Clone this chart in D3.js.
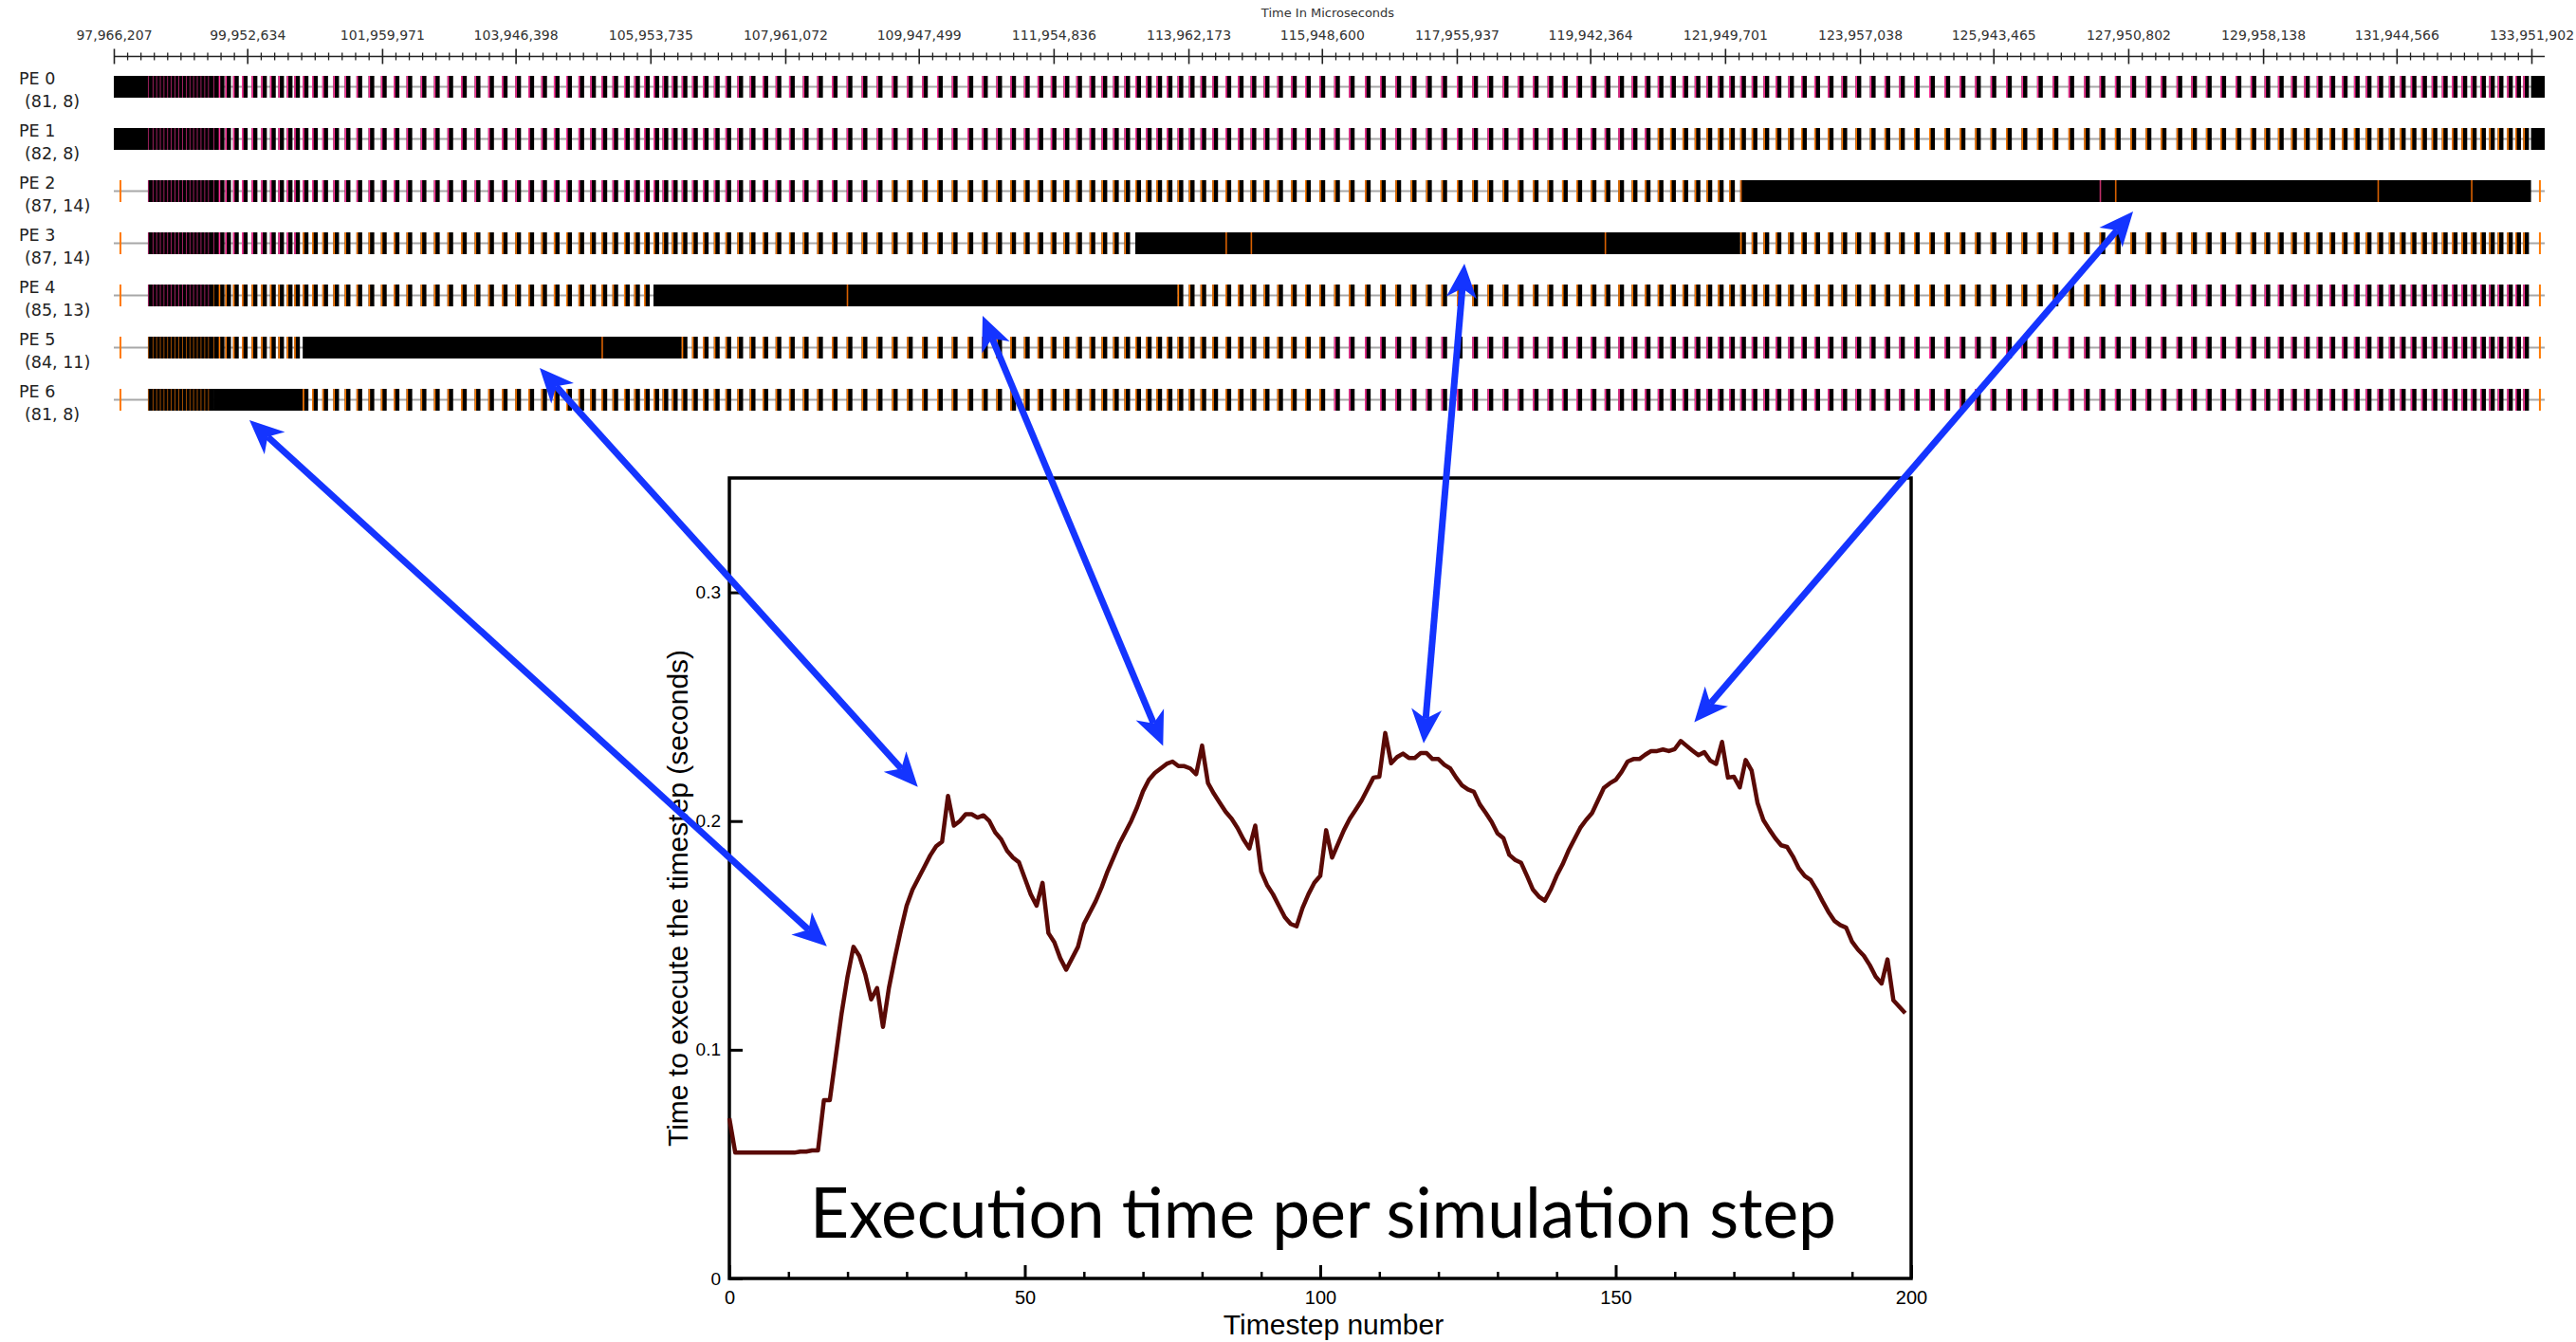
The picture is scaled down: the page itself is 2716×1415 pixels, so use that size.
<!DOCTYPE html>
<html>
<head>
<meta charset="utf-8">
<script src="https://cdn.jsdelivr.net/npm/d3@7"></script>
<style>
  body { margin: 0; background: #fff; }
  svg { display: block; }
</style>
</head>
<body>
<div id="chart"></div>
<script>
// ---- data ----
const timeTicks = [97966207, 99952634, 101959971, 103946398, 105953735, 107961072, 109947499,
  111954836, 113962173, 115948600, 117955937, 119942364, 121949701, 123957038, 125943465,
  127950802, 129958138, 131944566, 133951902];
const peNames = ["PE 0", "PE 1", "PE 2", "PE 3", "PE 4", "PE 5", "PE 6"];
const peCoords = ["(81, 8)", "(82, 8)", "(87, 14)", "(87, 14)", "(85, 13)", "(84, 11)", "(81, 8)"];

// seconds per timestep, steps 0..199
const stepTime = [
  0.070, 0.055, 0.055, 0.055, 0.055, 0.055, 0.055, 0.055, 0.055, 0.055,
  0.055, 0.055, 0.0555, 0.0555, 0.056, 0.056, 0.078, 0.078, 0.097, 0.116,
  0.132, 0.145, 0.141, 0.133, 0.122, 0.127, 0.110, 0.127, 0.140, 0.152,
  0.163, 0.170, 0.175, 0.180, 0.185, 0.189, 0.191, 0.211, 0.198, 0.200,
  0.203, 0.203, 0.2015, 0.2025, 0.200, 0.195, 0.192, 0.187, 0.184, 0.182,
  0.175, 0.168, 0.163, 0.173, 0.151, 0.147, 0.140, 0.135, 0.140, 0.145,
  0.155, 0.160, 0.165, 0.171, 0.178, 0.184, 0.190, 0.195, 0.200, 0.206,
  0.213, 0.218, 0.221, 0.223, 0.225, 0.226, 0.224, 0.224, 0.223, 0.2205,
  0.233, 0.2166, 0.212, 0.208, 0.204, 0.201, 0.197, 0.192, 0.188, 0.198,
  0.178, 0.172, 0.168, 0.163, 0.158, 0.155, 0.154, 0.162, 0.168, 0.173,
  0.176, 0.196, 0.184, 0.190, 0.196, 0.201, 0.205, 0.209, 0.214, 0.219,
  0.2194, 0.2385, 0.2253, 0.228, 0.2295, 0.2276, 0.2276, 0.2297, 0.2297, 0.2271,
  0.2271, 0.2246, 0.223, 0.219, 0.2156, 0.2138, 0.2128, 0.2073, 0.2036, 0.1997,
  0.1946, 0.1925, 0.1852, 0.183, 0.1817, 0.176, 0.170, 0.167, 0.1652, 0.170,
  0.176, 0.181, 0.187, 0.192, 0.197, 0.2005, 0.2035, 0.209, 0.2145, 0.2165,
  0.218, 0.2215, 0.226, 0.2271, 0.2271, 0.229, 0.2306, 0.2306, 0.2313, 0.2306,
  0.2315, 0.235, 0.2329, 0.2308, 0.2288, 0.2301, 0.2264, 0.225, 0.2346, 0.219,
  0.2194, 0.2147, 0.2267, 0.2221, 0.208, 0.2004, 0.1963, 0.1925, 0.1894, 0.1887,
  0.1845, 0.1793, 0.176, 0.1742, 0.170, 0.165, 0.1603, 0.1564, 0.1545, 0.1534,
  0.1473, 0.1438, 0.1411, 0.137, 0.132, 0.129, 0.1395, 0.1216, 0.1188, 0.116
];

const runStart = 98474000;      // first timestep begins (us)
const traceEnd = 134150000;     // end of the drawn trace (us)
const edgeMarks = [98065000, 134078000];
const workTime = 85000;         // compute part of a step on an idle PE (us)
// PE 0 / PE 1 are busy before and after the run
const busyEdges = [true, true, false, false, false, false, false];
// steps where a PE is overloaded (solid black)
const busySteps = [[], [], [[139, 199]], [[94, 138]], [[57, 97]], [[28, 59]], [[17, 27]]];
const busyMarks = [[], [], [[139, "o"], [164, "p"], [165, "o"], [184, "o"], [193, "o"]],
  [[102, "o"], [104, "o"], [128, "o"]], [[73, "o"]], [[52, "o"]], []];
const accentRuns = [[[0, "p"]], [[0, "p"], [132, "o"]], [[0, "p"], [76, "o"]], [[0, "p"], [28, "o"]],
  [[0, "p"], [17, "o"], [165, "p"]], [[0, "o"], [110, "p"]], [[0, "o"], [110, "p"]]];

// arrows: PE row + time on the trace  <->  timestep + seconds on the plot
const arrowLinks = [
  ["PE 6", 99985000, 16.5, 0.1452],
  ["PE 5", 104305000, 31.9, 0.2149],
  ["PE 4", 110898000, 73.4, 0.2328],
  ["PE 3", 118070000, 117.5, 0.2340],
  ["PE 2", 128023000, 163.3, 0.2432]
];

const accentColor = {p: "#ff3399", o: "#ff7a00"};

// ---- svg ----
const svg = d3.select("#chart").append("svg")
    .attr("width", 2716)
    .attr("height", 1415);

// ---- timeline ----
const tx = d3.scaleLinear()
    .domain([timeTicks[0], timeTicks[timeTicks.length - 1]])
    .range([120, 2669]);
const rowY = d3.scalePoint()
    .domain(peNames)
    .range([91.5, 421.5]);
const barH = 23;

const bounds = [runStart];
stepTime.forEach(s => bounds.push(bounds[bounds.length - 1] + s * 1e6));
const runEnd = bounds[bounds.length - 1];

svg.append("text")
    .attr("x", 1400)
    .attr("y", 18)
    .attr("text-anchor", "middle")
    .style("font-family", "DejaVu Sans")
    .style("font-size", "13px")
    .style("fill", "#333")
    .text("Time In Microseconds");

const axisY = 59.5;
svg.append("line")
    .attr("x1", 120).attr("x2", tx(traceEnd))
    .attr("y1", axisY).attr("y2", axisY)
    .attr("stroke", "#222").attr("stroke-width", 1.6);

const minorTicks = [];
for (let j = 0; j < timeTicks.length - 1; j++) {
  for (let m = 1; m < 10; m++) {
    minorTicks.push(timeTicks[j] + (timeTicks[j + 1] - timeTicks[j]) * m / 10);
  }
}
const minorAxis = svg.append("g")
    .attr("transform", `translate(0, ${axisY + 4})`)
    .call(d3.axisTop(tx).tickValues(minorTicks).tickSize(8).tickFormat(""));
minorAxis.select(".domain").remove();
minorAxis.selectAll("line").attr("stroke", "#222").attr("stroke-width", 1.3);

const majorAxis = svg.append("g")
    .attr("transform", `translate(0, ${axisY + 8})`)
    .call(d3.axisTop(tx).tickValues(timeTicks).tickSize(16).tickPadding(9.5).tickFormat(d3.format(",")));
majorAxis.select(".domain").remove();
majorAxis.selectAll("line").attr("stroke", "#222").attr("stroke-width", 1.6);
majorAxis.selectAll("text")
    .style("font-family", "DejaVu Sans")
    .style("font-size", "14px")
    .style("fill", "#333");

peNames.forEach((name, i) => {
  const cy = rowY(name);
  const top = cy - barH / 2;
  const g = svg.append("g");

  g.append("text")
      .attr("x", 20).attr("y", cy - 2.5)
      .style("font-family", "DejaVu Sans").style("font-size", "17.5px").style("fill", "#222")
      .text(name);
  g.append("text")
      .attr("x", 26).attr("y", cy + 21.5)
      .style("font-family", "DejaVu Sans").style("font-size", "17.5px").style("fill", "#222")
      .text(peCoords[i]);

  // idle line
  g.append("line")
      .attr("x1", tx(timeTicks[0])).attr("x2", tx(traceEnd))
      .attr("y1", cy).attr("y2", cy)
      .attr("stroke", "#a8a8a8").attr("stroke-width", 2);

  const busy = busySteps[i];
  const isBusy = k => busy.some(r => k >= r[0] && k <= r[1]);
  const steps = d3.range(stepTime.length).filter(k => !isBusy(k));

  // bars of each timestep
  g.selectAll("rect.step")
    .data(steps)
    .join("rect")
      .attr("class", "step")
      .attr("x", k => tx(bounds[k]))
      .attr("y", top)
      .attr("width", k => {
        const w = Math.min(workTime, stepTime[k] * 1e6);
        return tx(bounds[k] + w) - tx(bounds[k]) + (w < workTime ? 0.6 : 0);
      })
      .attr("height", barH)
      .attr("fill", "#000");

  // overloaded stretches
  g.selectAll("rect.busy")
    .data(busy)
    .join("rect")
      .attr("class", "busy")
      .attr("x", r => tx(bounds[r[0]]))
      .attr("y", top)
      .attr("width", r => tx(bounds[r[1] + 1]) - tx(bounds[r[0]]))
      .attr("height", barH)
      .attr("fill", "#000");

  if (busyEdges[i]) {
    g.append("rect")
        .attr("x", tx(timeTicks[0])).attr("y", top)
        .attr("width", tx(runStart) - tx(timeTicks[0]) + 0.6).attr("height", barH)
        .attr("fill", "#000");
    g.append("rect")
        .attr("x", tx(runEnd)).attr("y", top)
        .attr("width", tx(traceEnd) - tx(runEnd)).attr("height", barH)
        .attr("fill", "#000");
  } else {
    g.selectAll("line.edge")
      .data(edgeMarks)
      .join("line")
        .attr("class", "edge")
        .attr("x1", d => tx(d)).attr("x2", d => tx(d))
        .attr("y1", top).attr("y2", top + barH)
        .attr("stroke", accentColor.o).attr("stroke-width", 2);
  }

  // coloured entry marks at the start of each step
  const runs = accentRuns[i];
  const colorAt = k => accentColor[runs.filter(r => r[0] <= k).pop()[1]];
  g.selectAll("rect.accent")
    .data(steps)
    .join("rect")
      .attr("class", "accent")
      .attr("x", k => tx(bounds[k]))
      .attr("y", top)
      .attr("width", k => stepTime[k] * 1e6 < workTime ? 0.6 : 1.6)
      .attr("height", barH)
      .attr("fill", k => colorAt(k));

  g.selectAll("rect.mark")
    .data(busyMarks[i])
    .join("rect")
      .attr("class", "mark")
      .attr("x", d => tx(bounds[d[0]]))
      .attr("y", top)
      .attr("width", 1.6)
      .attr("height", barH)
      .attr("fill", d => d[1] === "p" ? "#c0306a" : "#d86000");
});

// ---- execution time plot ----
const x = d3.scaleLinear().domain([0, 200]).range([769, 2015]);
const y = d3.scaleLinear().domain([0, 0.35]).range([1348, 504]);

svg.append("rect")
    .attr("x", x(0)).attr("y", y(0.35))
    .attr("width", x(200) - x(0)).attr("height", y(0) - y(0.35))
    .attr("fill", "none").attr("stroke", "#000").attr("stroke-width", 3.5);

const xAxis = svg.append("g")
    .attr("transform", `translate(0, ${y(0)})`)
    .call(d3.axisBottom(x).tickValues([0, 50, 100, 150, 200]).tickSizeInner(-14).tickSizeOuter(0).tickPadding(13));
xAxis.select(".domain").remove();
xAxis.selectAll("line").attr("stroke", "#000").attr("stroke-width", 3);
xAxis.selectAll("text")
    .style("font-family", "Liberation Sans")
    .style("font-size", "20px")
    .style("fill", "#000");

const xMinor = svg.append("g")
    .attr("transform", `translate(0, ${y(0)})`)
    .call(d3.axisBottom(x).tickValues(d3.range(10, 200, 10).filter(v => v % 50)).tickSizeInner(-7).tickSizeOuter(0).tickFormat(""));
xMinor.select(".domain").remove();
xMinor.selectAll("line").attr("stroke", "#000").attr("stroke-width", 2.5);

const yAxis = svg.append("g")
    .attr("transform", `translate(${x(0)}, 0)`)
    .call(d3.axisLeft(y).tickValues([0, 0.1, 0.2, 0.3]).tickSizeInner(-14).tickSizeOuter(0).tickPadding(9)
      .tickFormat(d => d === 0 ? "0" : d3.format(".1f")(d)));
yAxis.select(".domain").remove();
yAxis.selectAll("line").attr("stroke", "#000").attr("stroke-width", 3);
yAxis.selectAll("text")
    .style("font-family", "Liberation Sans")
    .style("font-size", "19px")
    .style("fill", "#000");

svg.append("text")
    .attr("x", 1406).attr("y", 1407)
    .attr("text-anchor", "middle")
    .style("font-family", "Liberation Sans")
    .style("font-size", "30px")
    .text("Timestep number");

svg.append("text")
    .attr("transform", "translate(725, 947) rotate(-90)")
    .attr("text-anchor", "middle")
    .style("font-family", "Liberation Sans")
    .style("font-size", "30px")
    .text("Time to execute the timestep (seconds)");

svg.append("path")
    .datum(stepTime)
    .attr("fill", "none")
    .attr("stroke", "#5a0a06")
    .attr("stroke-width", 4.5)
    .attr("stroke-linejoin", "round")
    .attr("d", d3.line()
      .x((d, i) => x(i))
      .y(d => y(d)));

svg.append("text")
    .attr("x", 854).attr("y", 1305)
    .attr("textLength", 1082)
    .attr("lengthAdjust", "spacingAndGlyphs")
    .style("font-family", "Lato")
    .style("font-size", "74px")
    .text("Execution time per simulation step");

// ---- arrows ----
const headLen = 36, headHalf = 16, notch = 26;
function arrowHead(tip, from) {
  const dx = tip[0] - from[0], dy = tip[1] - from[1];
  const len = Math.hypot(dx, dy);
  const ux = dx / len, uy = dy / len;
  const nx = -uy, ny = ux;
  const bx = tip[0] - ux * headLen, by = tip[1] - uy * headLen;
  return [
    tip,
    [bx + nx * headHalf, by + ny * headHalf],
    [tip[0] - ux * notch, tip[1] - uy * notch],
    [bx - nx * headHalf, by - ny * headHalf]
  ];
}

const arrowG = svg.append("g");
arrowLinks.forEach(a => {
  const p1 = [tx(a[1]), rowY(a[0]) + barH / 2 + 10];
  const p2 = [x(a[2]), y(a[3])];
  const h1 = arrowHead(p1, p2);
  const h2 = arrowHead(p2, p1);
  arrowG.append("line")
      .attr("x1", h1[2][0]).attr("y1", h1[2][1])
      .attr("x2", h2[2][0]).attr("y2", h2[2][1])
      .attr("stroke", "#1434ff")
      .attr("stroke-width", 7);
  [h1, h2].forEach(h => {
    arrowG.append("path")
        .attr("d", d3.line()(h) + "Z")
        .attr("fill", "#1434ff");
  });
});
</script>
</body>
</html>
